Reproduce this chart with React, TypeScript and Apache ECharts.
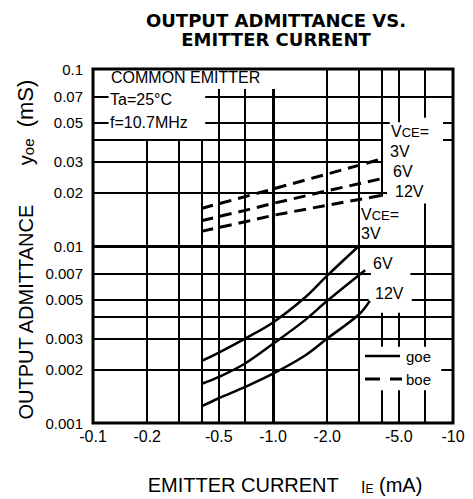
import React, { useEffect, useRef } from 'react';
import * as echarts from 'echarts';

// ---- axis ticks ----
const xTickValues = [0.1, 0.2, 0.5, 1, 2, 5, 10];
const xTickLabels = ['-0.1', '-0.2', '-0.5', '-1.0', '-2.0', '-5.0', '-10'];
const yTickValues = [0.001, 0.002, 0.003, 0.005, 0.007, 0.01, 0.02, 0.03, 0.05, 0.07, 0.1];
const yTickLabels = ['0.001', '0.002', '0.003', '0.005', '0.007', '0.01', '0.02', '0.03', '0.05', '0.07', '0.1'];

// ---- goe (solid) : |IE| mA -> mS ----
const goeIe3V = [0.4, 0.5, 0.7, 1.0, 1.5, 2.0, 3.0];
const goe3V = [0.00224, 0.0025, 0.003, 0.0037, 0.0051, 0.0068, 0.01];
const goeIe6V = [0.4, 0.5, 0.7, 1.0, 1.5, 2.0, 3.25];
const goe6V = [0.00166, 0.00182, 0.00217, 0.0028, 0.0038, 0.0049, 0.0073];
const goeIe12V = [0.4, 0.5, 0.7, 1.0, 1.5, 2.0, 3.0, 3.45];
const goe12V = [0.00124, 0.00138, 0.0016, 0.0019, 0.0024, 0.003, 0.0041, 0.0049];

// ---- boe (dashed) ----
const boeIe = [0.4, 0.7, 1.0, 2.0, 4.0];
const boe3V = [0.0163, 0.019, 0.021, 0.0255, 0.031];
const boe6V = [0.0139, 0.0159, 0.0174, 0.0205, 0.024];
const boe12V = [0.0121, 0.0137, 0.0149, 0.017, 0.0193];

// ---- grid lines: value, [from, to] pairs (data units) ----
const vGridX = [0.2, 0.3, 0.4, 0.5, 0.7, 1, 2, 3, 4, 5, 7];
const vGridSpans = [
  [[0.001, 0.04]],
  [[0.001, 0.04]],
  [[0.001, 0.04]],
  [[0.001, 0.077]],
  [[0.001, 0.077]],
  [[0.001, 0.077]],
  [[0.001, 0.1]],
  [[0.001, 0.1]],
  [[0.019, 0.1], [0.0027, 0.0042], [0.001, 0.00153]],
  [[0.05, 0.1], [0.0027, 0.0042], [0.001, 0.00153]],
  [[0.053, 0.1], [0.0027, 0.0174], [0.001, 0.00153]],
];
const hGridY = [0.07, 0.05, 0.04, 0.03, 0.02, 0.01, 0.007, 0.005, 0.004, 0.003, 0.002];
const hGridSpans = [
  [[0.1, 0.122], [0.42, 10]],
  [[0.1, 0.122], [0.42, 4.45], [8.8, 10]],
  [[0.1, 4.05], [8.8, 10]],
  [[0.1, 4.0]],
  [[0.1, 4.3]],
  [[0.1, 10]],
  [[0.1, 3.5], [5.8, 10]],
  [[0.1, 3.4], [5.9, 10]],
  [[0.1, 10]],
  [[0.1, 10]],
  [[0.1, 3.0], [8.6, 10]],
];
const majorX = 1;
const majorY = 0.01;

const FONT = "'Liberation Sans', Arial, Helvetica, sans-serif";
const TITLE_FONT = "'DejaVu Sans', 'Liberation Sans', Arial, sans-serif";

function zip(xs: number[], ys: number[]) {
  return xs.map((x, i) => [x, ys[i]]);
}

function lookup(values: number[], labels: string[], v: number) {
  let best = 0;
  let bd = Infinity;
  values.forEach((t, i) => {
    const d = Math.abs(Math.log10(t) - Math.log10(v));
    if (d < bd) {
      bd = d;
      best = i;
    }
  });
  return labels[best];
}

function txt(text: string, x: number, y: number, size: number, extra: any = {}) {
  const { align = 'left', weight = 'normal', rich, rotation, lineHeight, family = FONT } = extra;
  const el: any = {
    type: 'text',
    x,
    y,
    silent: true,
    style: {
      text,
      fill: '#000',
      fontSize: size,
      fontWeight: weight,
      fontFamily: family,
      align,
      verticalAlign: 'middle',
    },
  };
  if (lineHeight) el.style.lineHeight = lineHeight;
  if (rich) el.style.rich = rich;
  if (rotation !== undefined) el.rotation = rotation;
  return el;
}

export default function App() {
  const ref = useRef<HTMLDivElement>(null);

  useEffect(() => {
    if (!ref.current) return;
    const chart = echarts.init(ref.current, null, { renderer: 'svg' });

    const segs: any[] = [];
    vGridX.forEach((x, i) => {
      vGridSpans[i].forEach(([a, b]) => {
        segs.push([
          { coord: [x, a], lineStyle: { color: '#000', width: x === majorX ? 3 : 2, type: 'solid' } },
          { coord: [x, b] },
        ]);
      });
    });
    hGridY.forEach((y, i) => {
      hGridSpans[i].forEach(([a, b]) => {
        segs.push([
          { coord: [a, y], lineStyle: { color: '#000', width: y === majorY ? 3 : 2, type: 'solid' } },
          { coord: [b, y] },
        ]);
      });
    });

    const solid = (name: string, xs: number[], ys: number[]) => ({
      name,
      type: 'line',
      data: zip(xs, ys),
      smooth: 0.35,
      symbol: 'none',
      z: 4,
      lineStyle: { color: '#000', width: 2.5 },
    });
    const dashed = (name: string, ys: number[]) => ({
      name,
      type: 'line',
      data: zip(boeIe, ys),
      smooth: false,
      symbol: 'none',
      z: 4,
      lineStyle: { color: '#000', width: 3, type: [12, 7] },
    });

    const sub = (size: number) => ({ fontSize: size, fontFamily: FONT, fill: '#000', color: '#000', verticalAlign: 'bottom' });

    chart.setOption({
      animation: false,
      backgroundColor: '#fff',
      grid: {
        left: 93,
        right: 20,
        top: 69,
        bottom: 76,
        show: true,
        borderColor: '#000',
        borderWidth: 3,
        backgroundColor: 'transparent',
        containLabel: false,
      },
      xAxis: {
        type: 'log',
        logBase: 10,
        min: 0.1,
        max: 10,
        axisLine: { show: false },
        axisTick: { show: false },
        splitLine: { show: false },
        minorSplitLine: { show: false },
        axisLabel: {
          customValues: xTickValues,
          formatter: (v: number) => lookup(xTickValues, xTickLabels, v),
          fontSize: 16,
          fontFamily: FONT,
          color: '#000',
          margin: 5,
        },
      },
      yAxis: {
        type: 'log',
        logBase: 10,
        min: 0.001,
        max: 0.1,
        axisLine: { show: false },
        axisTick: { show: false },
        splitLine: { show: false },
        axisLabel: {
          customValues: yTickValues,
          formatter: (v: number) => lookup(yTickValues, yTickLabels, v),
          fontSize: 15,
          fontFamily: FONT,
          color: '#000',
          margin: 10,
        },
      },
      series: [
        {
          name: 'grid',
          type: 'line',
          data: [],
          z: 1,
          silent: true,
          markLine: {
            silent: true,
            z: 1,
            symbol: ['none', 'none'],
            label: { show: false },
            emphasis: { disabled: true },
            lineStyle: { color: '#000', width: 2, type: 'solid' },
            data: segs,
          },
        },
        solid('goe 3V', goeIe3V, goe3V),
        solid('goe 6V', goeIe6V, goe6V),
        solid('goe 12V', goeIe12V, goe12V),
        dashed('boe 3V', boe3V),
        dashed('boe 6V', boe6V),
        dashed('boe 12V', boe12V),
      ],
      graphic: [
        txt('OUTPUT ADMITTANCE VS.\nEMITTER CURRENT', 276, 29.5, 18, {
          align: 'center',
          weight: 'bold',
          lineHeight: 19,
          family: TITLE_FONT,
        }),
        txt('COMMON EMITTER', 111, 77, 16),
        txt('Ta=25°C', 110, 99, 16),
        txt('f=10.7MHz', 110, 122, 16),
        txt('{v|V}{s|CE}{v|=}', 391, 131, 16, { rich: { v: sub(16), s: sub(13) } }),
        txt('3V', 390, 151, 16),
        txt('6V', 393, 171, 16),
        txt('12V', 395, 191, 16),
        txt('{v|V}{s|CE}{v|=}', 361, 214, 16, { rich: { v: sub(16), s: sub(13) } }),
        txt('3V', 361, 233, 16),
        txt('6V', 373, 263, 16),
        txt('12V', 375, 293, 16),
        {
          type: 'line',
          silent: true,
          shape: { x1: 365, y1: 356, x2: 400, y2: 356 },
          style: { stroke: '#000', lineWidth: 2.5 },
        },
        {
          type: 'line',
          silent: true,
          shape: { x1: 365, y1: 379, x2: 380, y2: 379 },
          style: { stroke: '#000', lineWidth: 3 },
        },
        {
          type: 'line',
          silent: true,
          shape: { x1: 390, y1: 379, x2: 402, y2: 379 },
          style: { stroke: '#000', lineWidth: 3 },
        },
        txt('goe', 406, 356, 15),
        txt('boe', 406, 379, 15),
        txt('{a|EMITTER CURRENT}{a|    }{b|I}{c|E}{a| (mA)}', 285, 485, 20, {
          align: 'center',
          rich: { a: sub(20), b: sub(16), c: sub(12) },
        }),
        txt('{a|OUTPUT ADMITTANCE}{a|       }{b|y}{c|oe}{a|  }{d|(mS)}', 25, 250, 20, {
          align: 'center',
          rotation: Math.PI / 2,
          rich: { a: sub(20), b: sub(20), c: sub(15), d: sub(22) },
        }),
      ],
    });

    return () => chart.dispose();
  }, []);

  return (
    <div
      ref={ref}
      style={{ position: 'absolute', left: 0, top: 0, width: 473, height: 499, background: '#fff' }}
    />
  );
}
